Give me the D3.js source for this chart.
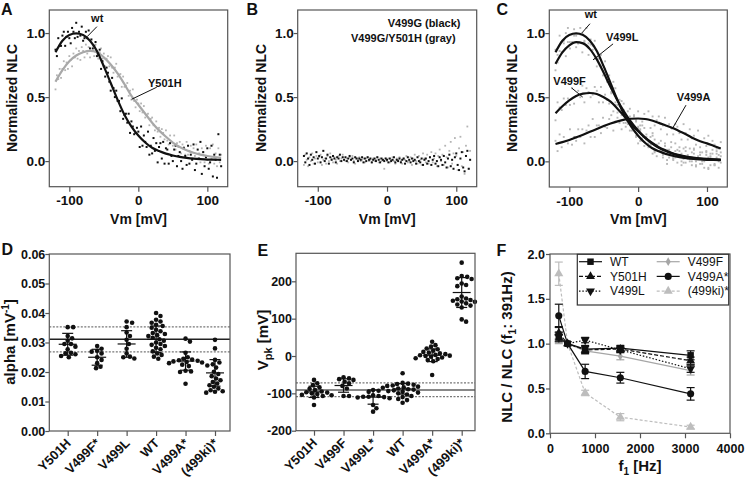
<!DOCTYPE html>
<html>
<head>
<meta charset="utf-8">
<script src="https://cdn.jsdelivr.net/npm/d3@7/dist/d3.min.js"></script>
<style>
  body { margin: 0; background: #fff; }
</style>
</head>
<body>
<script>
// ---------- data ----------
// fitted NLC curves (panels A, C), read every 10 mV
const fitV = d3.range(-120, 121, 10);
const fitWt    = [0.85,0.94,0.985,0.997,0.985,0.94,0.86,0.74,0.61,0.478,0.36,0.27,0.20,0.145,0.104,0.078,0.058,0.044,0.033,0.025,0.019,0.015,0.012,0.011,0.010];
const fitY501H = [0.62,0.71,0.78,0.825,0.85,0.86,0.85,0.81,0.755,0.685,0.60,0.51,0.44,0.37,0.30,0.24,0.19,0.145,0.11,0.085,0.065,0.05,0.04,0.032,0.026];
const fitV499L = [0.76,0.85,0.905,0.93,0.92,0.875,0.795,0.69,0.58,0.475,0.385,0.305,0.24,0.185,0.14,0.105,0.08,0.06,0.045,0.034,0.026,0.02,0.016,0.014,0.012];
const fitV499F = [0.375,0.43,0.475,0.51,0.528,0.533,0.525,0.50,0.465,0.41,0.35,0.29,0.235,0.185,0.145,0.11,0.085,0.063,0.048,0.037,0.029,0.023,0.019,0.016,0.014];
const fitV499A = [0.135,0.15,0.167,0.187,0.207,0.23,0.252,0.275,0.295,0.312,0.325,0.332,0.334,0.33,0.318,0.30,0.28,0.26,0.235,0.21,0.18,0.157,0.14,0.12,0.10];

// raw NLC points (x 0.01), sweeps from -120 mV (A, B every 2 mV; C every 3 mV)
const cloudAwt = [87,82,96,90,90,98,101,90,97,101,96,92,104,101,96,108,97,101,98,105,94,96,101,96,102,88,95,88,90,93,82,83,87,72,78,74,66,73,69,62,55,65,57,50,55,47,47,39,49,33,36,37,30,37,22,31,27,21,22,26,23,11,27,12,20,15,11,23,5,12,6,18,8,14,-1,11,14,2,15,-2,10,9,-2,14,4,0,9,12,-4,4,7,0,-6,10,4,-3,12,-2,5,1,13,-7,-2,9,2,15,-10,7,-4,3,10,-6,-1,12,-12,5,1,-13,21,5,-4];
const cloudAy501h = [56,67,64,72,65,72,78,71,77,72,82,79,74,84,81,88,80,86,79,89,86,81,91,84,89,81,86,90,82,91,84,80,85,88,80,84,74,80,82,74,81,73,69,73,76,66,67,68,58,66,58,59,61,51,55,48,56,47,42,48,45,39,45,38,43,34,36,37,28,33,34,28,24,31,23,26,19,25,22,17,24,16,13,20,15,12,20,9,14,11,15,6,13,11,5,15,5,8,12,2,10,4,13,2,6,-1,10,7,-1,12,1,-2,10,2,13,-2,6,-4,10,-1,5];
const cloudBg = [4,-1,6,2,-3,5,1,3,-2,7,2,4,-1,3,8,0,2,5,-2,3,1,4,2,-1,3,2,5,0,3,1,3,0,2,4,1,2,-1,3,2,0,2,1,3,-1,2,0,3,1,2,-1,1,2,0,3,1,-1,2,1,0,2,1,-1,2,0,1,3,-1,1,0,2,-1,1,2,-2,0,3,1,-1,2,0,1,-2,3,0,-1,2,-3,1,2,-2,0,3,-3,1,4,-2,0,-4,3,1,-3,4,-1,-5,2,5,-4,1,-6,3,6,-3,-7,2,7,-5,-8,4,8,-6,1];
const cloudBgy = [-3,5,1,-4,3,0,6,-2,2,4,-1,3,5,-3,1,2,-2,4,0,6,2,-1,3,1,-2,4,0,2,5,1,0,2,-1,3,1,4,0,-2,2,1,3,0,1,2,-1,2,3,0,1,-1,2,0,1,3,-1,2,0,1,-6,2,0,2,-1,1,3,0,-2,2,1,3,0,-2,2,1,4,-1,0,3,-3,2,5,0,-2,4,1,-3,6,2,-1,5,-2,3,7,-1,2,6,-4,4,9,0,5,-3,12,3,-5,8,15,-2,6,18,4,-7,10,19,-4,7,-10,12,27,-6,8];
const cloudCwt = [87,83,98,93,92,100,104,93,99,103,98,92,104,100,94,104,92,95,90,94,81,80,83,75,78,62,67,57,57,57,44,43,47,30,36,32,24,30,27,20,14,25,18,12,19,11,13,6,17,4,8,10,5,12,-2,9,6,1,3,9,5,-3,10,-1,5,2,0,10,-3,3,-2,7,0,5,-6,3,6,-3,10,-5,4];
const cloudCl = [71,77,86,85,94,82,93,88,93,98,89,92,99,85,93,90,83,91,87,80,74,83,74,67,72,63,62,53,62,46,48,48,40,45,30,39,33,27,27,31,26,16,28,15,21,16,13,22,8,13,8,16,8,12,1,9,11,2,14,-1,8,6,-1,11,2,0,7,9,-4,2,5,0,-5,7,3,-3,9,-2,3,0,7];
const cloudCf = [32,46,42,40,49,44,49,44,57,45,51,55,50,59,46,57,54,50,52,58,55,46,58,46,52,48,45,54,39,44,38,45,36,40,27,34,35,24,36,19,27,24,16,26,17,14,19,20,7,12,14,8,3,14,9,3,15,3,8,4,11,0,2,8,4,10,-3,6,0,4,7,-2,1,8,-5,4,2,-3,6,5,-1];
const cloudCa = [16,8,21,11,19,16,14,25,13,19,16,25,19,25,14,24,28,19,33,19,28,28,22,34,27,26,33,36,24,31,34,30,25,37,34,29,41,30,35,32,39,28,31,37,33,39,26,35,28,32,35,25,28,34,21,29,26,21,29,27,22,17,29,22,17,25,18,20,13,24,11,15,18,12,20,6,16,13,8,10,15];

// panel D: alpha
const alphaCats = ['Y501H', 'V499F*', 'V499L', 'WT', 'V499A*', '(499ki)*'];
const alphaY501H = [0.0352,0.0352,0.0322,0.0314,0.0306,0.0295,0.0295,0.0286,0.0277,0.0265,0.0263,0.0260,0.0254,0.0250];
const alphaV499F = [0.0288,0.0279,0.0272,0.0269,0.0263,0.0250,0.0241,0.0230,0.0218,0.0213];
const alphaV499L = [0.0371,0.0367,0.0352,0.0334,0.0322,0.0309,0.0295,0.0279,0.0263,0.0252,0.0250,0.0246];
const alphaWT = [0.0400,0.0390,0.0377,0.0371,0.0367,0.0360,0.0356,0.0350,0.0343,0.0338,0.0332,0.0329,0.0325,0.0322,0.0316,0.0311,0.0306,0.0300,0.0295,0.0292,0.0288,0.0282,0.0277,0.0270,0.0263,0.0258,0.0252,0.0245];
const alphaV499A = [0.0313,0.0303,0.0265,0.0250,0.0245,0.0242,0.0240,0.0238,0.0236,0.0234,0.0232,0.0230,0.0225,0.0220,0.0204,0.0202,0.0200,0.0160];
const alpha499ki = [0.0309,0.0280,0.0241,0.0232,0.0226,0.0222,0.0215,0.0201,0.0193,0.0186,0.0178,0.0172,0.0166,0.0161,0.0155,0.0150,0.0144,0.0138,0.0135,0.0133,0.0130];
const alphaMean = [0.0294, 0.0250, 0.0295, 0.0311, 0.0237, 0.0197];
const alphaSd = [0.0037, 0.0027, 0.0045, 0.0045, 0.0031, 0.0045];
const alphaRef = [0.0311, 0.0353, 0.0268];

// panel E: Vpk
const vpkCats = ['Y501H', 'V499F', 'V499L*', 'WT', 'V499A*', '(499ki)*'];
const vpkY501H = [-64,-73,-78,-84,-88,-91,-95,-97,-98,-100,-102,-104,-105,-107,-111,-131];
const vpkV499F = [-57,-60,-62,-64,-69,-73,-80,-87,-107,-107];
const vpkV499L = [-91,-93,-96,-105,-107,-109,-109,-110,-111,-113,-131,-140,-149];
const vpkWT = [-46,-72,-74,-75,-77,-79,-80,-82,-84,-85,-87,-89,-90,-92,-94,-96,-98,-100,-103,-107,-110,-115,-118,-125];
const vpkV499A = [38,29,25,20,18,14,11,9,7,5,3,2,1,0,-2,-4,-6,-8,-11,-14,-51];
const vpk499ki = [250,214,212,208,206,194,190,187,159,154,152,150,148,146,145,141,138,135,130,98,92];
const vpkMean = [-96, -79, -110, -88, 2, 170];
const vpkSd = [15, 18, 19, 14, 17, 40];
const vpkRef = [-91, -72, -109];

// panel F: frequency dependence
const freqs = [195, 391, 781, 1563, 3125];
const fWT = [1.07, 1, 0.94, 0.95, 0.87],    fWTe = [0.05, 0, 0.04, 0.03, 0.05];
const fY501H = [1.12, 1, 0.93, 0.94, 0.81], fY501He = [0.07, 0, 0.04, 0.03, 0.04];
const fV499L = [1.08, 1, 1.04, 0.93, 0.72], fV499Le = [0.05, 0, 0.03, 0.03, 0.04];
const fV499F = [1.05, 1, 0.92, 0.86, 0.70], fV499Fe = [0.05, 0, 0.04, 0.04, 0.05];
const fV499A = [1.31, 1, 0.69, 0.62, 0.44], fV499Ae = [0.13, 0, 0.08, 0.06, 0.07];
const f499ki = [1.78, 1, 0.45, 0.18, 0.07], f499kie = [0.13, 0, 0.03, 0.04, 0.02];

// ---------- drawing ----------
const FONT = '"Liberation Sans", Arial, sans-serif';
const INK = '#111';
const EDGE = '#555';

const svg = d3.select('body').append('svg')
  .attr('width', 745).attr('height', 480)
  .style('font-family', FONT);

function frame(b) {
  svg.append('rect')
    .attr('x', b.l).attr('y', b.t)
    .attr('width', b.r - b.l).attr('height', b.b - b.t)
    .attr('fill', 'none').attr('stroke', EDGE).attr('stroke-width', 1.2);
}

function dressAxis(g, size) {
  g.attr('font-family', FONT).attr('font-size', size).attr('font-weight', 'bold');
  g.select('.domain').remove();
  g.selectAll('line').attr('stroke', EDGE).attr('stroke-width', 1.2);
  g.selectAll('text').attr('fill', INK);
}

function label(x, y, txt, size, opts = {}) {
  return svg.append('text').attr('x', x).attr('y', y)
    .attr('font-size', size).attr('font-weight', opts.weight || 'bold')
    .attr('text-anchor', opts.anchor || 'start').attr('fill', INK).text(txt);
}

function yTitle(cx, cy, size) {
  return svg.append('text')
    .attr('transform', `translate(${cx},${cy}) rotate(-90)`)
    .attr('text-anchor', 'middle').attr('font-size', size)
    .attr('font-weight', 'bold').attr('fill', INK);
}

// --- panels A-C ---
function nlcPanel(box, clouds, fits, titleX) {
  const x = d3.scaleLinear().domain([-129, 129.5]).range([box.l, box.r]);
  const y = d3.scaleLinear().domain([-0.2, 1.18]).range([box.b, box.t]);

  clouds.forEach(c => {
    svg.append('g').selectAll('rect').data(c.vals).join('rect')
      .attr('x', (d, i) => x(-120 + i * c.step) - c.size / 2)
      .attr('y', d => y(d / 100) - c.size / 2)
      .attr('width', c.size).attr('height', c.size)
      .attr('fill', c.color);
  });

  const line = d3.line()
    .x((d, i) => x(fitV[i]))
    .y(d => y(d))
    .curve(d3.curveMonotoneX);
  fits.forEach(f => {
    svg.append('path').attr('d', line(f.vals))
      .attr('fill', 'none').attr('stroke', f.color).attr('stroke-width', 2.2);
  });

  frame(box);
  const gx = svg.append('g').attr('transform', `translate(0,${box.b})`)
    .call(d3.axisBottom(x).tickValues([-100, 0, 100]).tickFormat(d => d).tickSize(5).tickPadding(4));
  dressAxis(gx, 13.5);
  const gy = svg.append('g').attr('transform', `translate(${box.l},0)`)
    .call(d3.axisLeft(y).tickValues([0, 0.5, 1]).tickFormat(d3.format('.1f')).tickSize(4).tickPadding(0));
  dressAxis(gy, 13.5);

  label((box.l + box.r) / 2, 223.5, 'Vm [mV]', 14, { anchor: 'middle' });
  yTitle(titleX, 98, 14).text('Normalized NLC');
  return { x, y };
}

function pointer(s, tx, ty, text, anchor, x1, y1, x2, y2) {
  label(s.x(tx), s.y(ty), text, 11, { anchor });
  svg.append('line')
    .attr('x1', s.x(x1)).attr('y1', s.y(y1))
    .attr('x2', s.x(x2)).attr('y2', s.y(y2))
    .attr('stroke', INK).attr('stroke-width', 1);
}

const sA = nlcPanel({ l: 49.3, r: 227.7, t: 10, b: 186.7 },
  [{ vals: cloudAy501h, step: 2, color: '#b4b4b4', size: 1.8 }, { vals: cloudAwt, step: 2, color: '#111', size: 2 }],
  [{ vals: fitY501H, color: '#a8a8a8' }, { vals: fitWt, color: '#111' }], 16.5);
pointer(sA, -59.6, 1.083, 'wt', 'middle', -60, 1.05, -74.3, 0.971);
pointer(sA, 14, 0.582, 'Y501H', 'start', 26.7, 0.577, -9.6, 0.483);

const sB = nlcPanel({ l: 297.7, r: 476.7, t: 10, b: 186.7 },
  [{ vals: cloudBgy, step: 2, color: '#b4b4b4', size: 1.8 }, { vals: cloudBg, step: 2, color: '#111', size: 2 }],
  [], 266);
label(387.7, 26.7, 'V499G (black)', 11);
label(351, 41.7, 'V499G/Y501H (gray)', 11);

const sC = nlcPanel({ l: 549.3, r: 727.3, t: 10, b: 187 },
  [{ vals: cloudCa, step: 3, color: '#b8b8b8', size: 1.9 }, { vals: cloudCf, step: 3, color: '#b8b8b8', size: 1.9 },
   { vals: cloudCl, step: 3, color: '#b8b8b8', size: 1.9 }, { vals: cloudCwt, step: 3, color: '#b8b8b8', size: 1.9 }],
  [{ vals: fitV499A, color: '#111' }, { vals: fitV499F, color: '#111' },
   { vals: fitV499L, color: '#111' }, { vals: fitWt, color: '#111' }], 517);
pointer(sC, -68.8, 1.117, 'wt', 'middle', -69.9, 1.073, -81.5, 1.002);
pointer(sC, -46.6, 0.94, 'V499L', 'start', -36.4, 0.916, -65.5, 0.791);
pointer(sC, -123.1, 0.595, 'V499F', 'start', -96.5, 0.572, -80.5, 0.501);
pointer(sC, 56, 0.472, 'V499A', 'start', 69.5, 0.438, 49.2, 0.25);

// --- panels D, E ---
function swarm(vals, y, r) {
  const placed = [];
  return vals.map(v => {
    const py = y(v);
    let dx = 0;
    for (let k = 0; k < 80; k++) {
      dx = (k % 2 ? 1 : -1) * Math.ceil(k / 2) * 1.1;
      if (placed.every(p => (p.dx - dx) ** 2 + (p.py - py) ** 2 >= (2 * r) ** 2)) break;
    }
    placed.push({ dx, py });
    return { dx, py };
  });
}

function dotPanel(box, inset, cats, groups, means, sds, domain, ticks, fmt, refs, refStyle) {
  const x = d3.scalePoint().domain(cats).range([box.l + inset[0], box.r - inset[1]]);
  const y = d3.scaleLinear().domain(domain).range([box.b, box.t]);

  refs.forEach((r, i) => {
    svg.append('line')
      .attr('x1', box.l).attr('x2', box.r).attr('y1', y(r)).attr('y2', y(r))
      .attr('stroke', i ? '#777' : refStyle.color)
      .attr('stroke-width', i ? 1.3 : refStyle.width)
      .attr('stroke-dasharray', i ? '2,1.5' : null);
  });

  groups.forEach((vals, gi) => {
    const cx = x(cats[gi]);
    svg.append('g').selectAll('circle').data(swarm(vals, y, 2.3)).join('circle')
      .attr('cx', d => cx + d.dx).attr('cy', d => d.py).attr('r', 2.3).attr('fill', INK);
    const m = means[gi], s = sds[gi];
    const bar = svg.append('g').attr('stroke', INK).attr('stroke-width', 1.2);
    bar.append('line').attr('x1', cx).attr('x2', cx).attr('y1', y(m - s)).attr('y2', y(m + s));
    bar.append('line').attr('x1', cx - 9).attr('x2', cx + 9).attr('y1', y(m)).attr('y2', y(m));
    [m - s, m + s].forEach(v => bar.append('line')
      .attr('x1', cx - 5.5).attr('x2', cx + 5.5).attr('y1', y(v)).attr('y2', y(v)));
  });

  frame(box);
  const gy = svg.append('g').attr('transform', `translate(${box.l},0)`)
    .call(d3.axisLeft(y).tickValues(ticks).tickFormat(fmt).tickSize(4).tickPadding(0));
  dressAxis(gy, 12.5);
  const gx = svg.append('g').attr('transform', `translate(0,${box.b})`)
    .call(d3.axisBottom(x).tickSize(5).tickFormat(''));
  dressAxis(gx, 13);
  cats.forEach(c => {
    svg.append('text')
      .attr('transform', `translate(${x(c) + 4},${box.b + 13}) rotate(-45)`)
      .attr('text-anchor', 'end').attr('font-size', 13).attr('font-weight', 'bold')
      .attr('fill', INK).text(c);
  });
  return { x, y };
}

dotPanel({ l: 49.3, r: 230, t: 254, b: 431 }, [18.4, 15], alphaCats,
  [alphaY501H, alphaV499F, alphaV499L, alphaWT, alphaV499A, alpha499ki],
  alphaMean, alphaSd, [0, 0.06], [0, 0.01, 0.02, 0.03, 0.04, 0.05, 0.06], d3.format('.2f'),
  alphaRef, { color: '#222', width: 1.3 });
const tD = yTitle(15, 342, 15).text('alpha [mV');
tD.append('tspan').attr('font-size', 10).attr('dy', -6).text('-1');
tD.append('tspan').attr('dy', 6).text(']');

dotPanel({ l: 296, r: 475, t: 253.3, b: 430.7 }, [18, 13.3], vpkCats,
  [vpkY501H, vpkV499F, vpkV499L, vpkWT, vpkV499A, vpk499ki],
  vpkMean, vpkSd, [-200, 275], [-200, -100, 0, 100, 200], d => d,
  vpkRef, { color: '#888', width: 2.2 });
const tE = yTitle(267.5, 340, 15).text('V');
tE.append('tspan').attr('font-size', 11).attr('dy', 4).text('pk');
tE.append('tspan').attr('dy', -4).text(' [mV]');

// --- panel F ---
const fBox = { l: 550, r: 730, t: 254, b: 433.3 };
const fx = d3.scaleLinear().domain([0, 4000]).range([fBox.l, fBox.r]);
const fy = d3.scaleLinear().domain([0, 2]).range([fBox.b, fBox.t]);

const fSeries = [
  { name: '(499ki)*', vals: f499ki, err: f499kie, color: '#bdbdbd', dash: '3,2', sym: d3.symbolTriangle, size: 36, rot: 0 },
  { name: 'V499F', vals: fV499F, err: fV499Fe, color: '#a6a6a6', dash: null, sym: d3.symbolDiamond, size: 22, rot: 0 },
  { name: 'WT', vals: fWT, err: fWTe, color: '#111', dash: null, sym: d3.symbolSquare, size: 42, rot: 0 },
  { name: 'Y501H', vals: fY501H, err: fY501He, color: '#111', dash: '4,2', sym: d3.symbolTriangle, size: 34, rot: 0 },
  { name: 'V499L', vals: fV499L, err: fV499Le, color: '#111', dash: '1.5,1.8', sym: d3.symbolTriangle, size: 34, rot: 180 },
  { name: 'V499A*', vals: fV499A, err: fV499Ae, color: '#111', dash: null, sym: d3.symbolCircle, size: 40, rot: 0 }
];

const fLine = d3.line().x((d, i) => fx(freqs[i])).y(d => fy(d));
fSeries.forEach(s => {
  svg.append('path').attr('d', fLine(s.vals))
    .attr('fill', 'none').attr('stroke', s.color).attr('stroke-width', 1.2)
    .attr('stroke-dasharray', s.dash);
  const eb = svg.append('g').attr('stroke', s.color).attr('stroke-width', 1.2);
  s.vals.forEach((v, i) => {
    if (!s.err[i]) return;
    const px = fx(freqs[i]);
    eb.append('line').attr('x1', px).attr('x2', px).attr('y1', fy(v - s.err[i])).attr('y2', fy(v + s.err[i]));
    [v - s.err[i], v + s.err[i]].forEach(e => eb.append('line')
      .attr('x1', px - 4).attr('x2', px + 4).attr('y1', fy(e)).attr('y2', fy(e)));
  });
  svg.append('g').selectAll('path').data(s.vals).join('path')
    .attr('d', d3.symbol(s.sym, s.size))
    .attr('transform', (d, i) => `translate(${fx(freqs[i])},${fy(d)}) rotate(${s.rot})`)
    .attr('fill', s.color);
});

frame(fBox);
const gfx = svg.append('g').attr('transform', `translate(0,${fBox.b})`)
  .call(d3.axisBottom(fx).tickValues([0, 1000, 2000, 3000, 4000]).tickFormat(d3.format('d')).tickSize(5).tickPadding(6));
dressAxis(gfx, 12.5);
const gfy = svg.append('g').attr('transform', `translate(${fBox.l},0)`)
  .call(d3.axisLeft(fy).tickValues([0, 0.5, 1, 1.5, 2]).tickFormat(d3.format('.1f')).tickSize(4).tickPadding(1));
dressAxis(gfy, 12.5);

const tFx = label(640, 471, 'f', 15, { anchor: 'middle' });
tFx.append('tspan').attr('font-size', 10).attr('dy', 4).text('1');
tFx.append('tspan').attr('dy', -4).text(' [Hz]');
const tF = yTitle(512, 347, 15).text('NLC / NLC (f');
tF.append('tspan').attr('font-size', 10).attr('dy', 4).text('1');
tF.append('tspan').attr('dy', -4).text(': 391Hz)');

// legend
const legOrder = ['WT', 'Y501H', 'V499L', 'V499F', 'V499A*', '(499ki)*'];
svg.append('rect').attr('x', 577.3).attr('y', 254.3).attr('width', 151.4).attr('height', 50.7)
  .attr('fill', '#fff').attr('stroke', '#333').attr('stroke-width', 1.2);
legOrder.forEach((n, i) => {
  const s = fSeries.find(d => d.name === n);
  const col = Math.floor(i / 3), row = i % 3;
  const x0 = col ? 656.7 : 579, ly = 261.7 + row * 14.7;
  svg.append('line').attr('x1', x0).attr('x2', x0 + 23).attr('y1', ly).attr('y2', ly)
    .attr('stroke', s.color).attr('stroke-width', 1.2).attr('stroke-dasharray', s.dash);
  svg.append('path').attr('d', d3.symbol(s.sym, s.size)())
    .attr('transform', `translate(${x0 + 11.5},${ly}) rotate(${s.rot})`).attr('fill', s.color);
  label(x0 + 31, ly + 4.3, n, 12, { weight: 'normal' });
});

// panel letters
[['A', 1, 14.5], ['B', 246.5, 14.5], ['C', 496.5, 14.5],
 ['D', 1.5, 254.5], ['E', 257.5, 256], ['F', 496.5, 255.5]].forEach(([t, x, y]) => label(x, y, t, 16));
</script>
</body>
</html>
